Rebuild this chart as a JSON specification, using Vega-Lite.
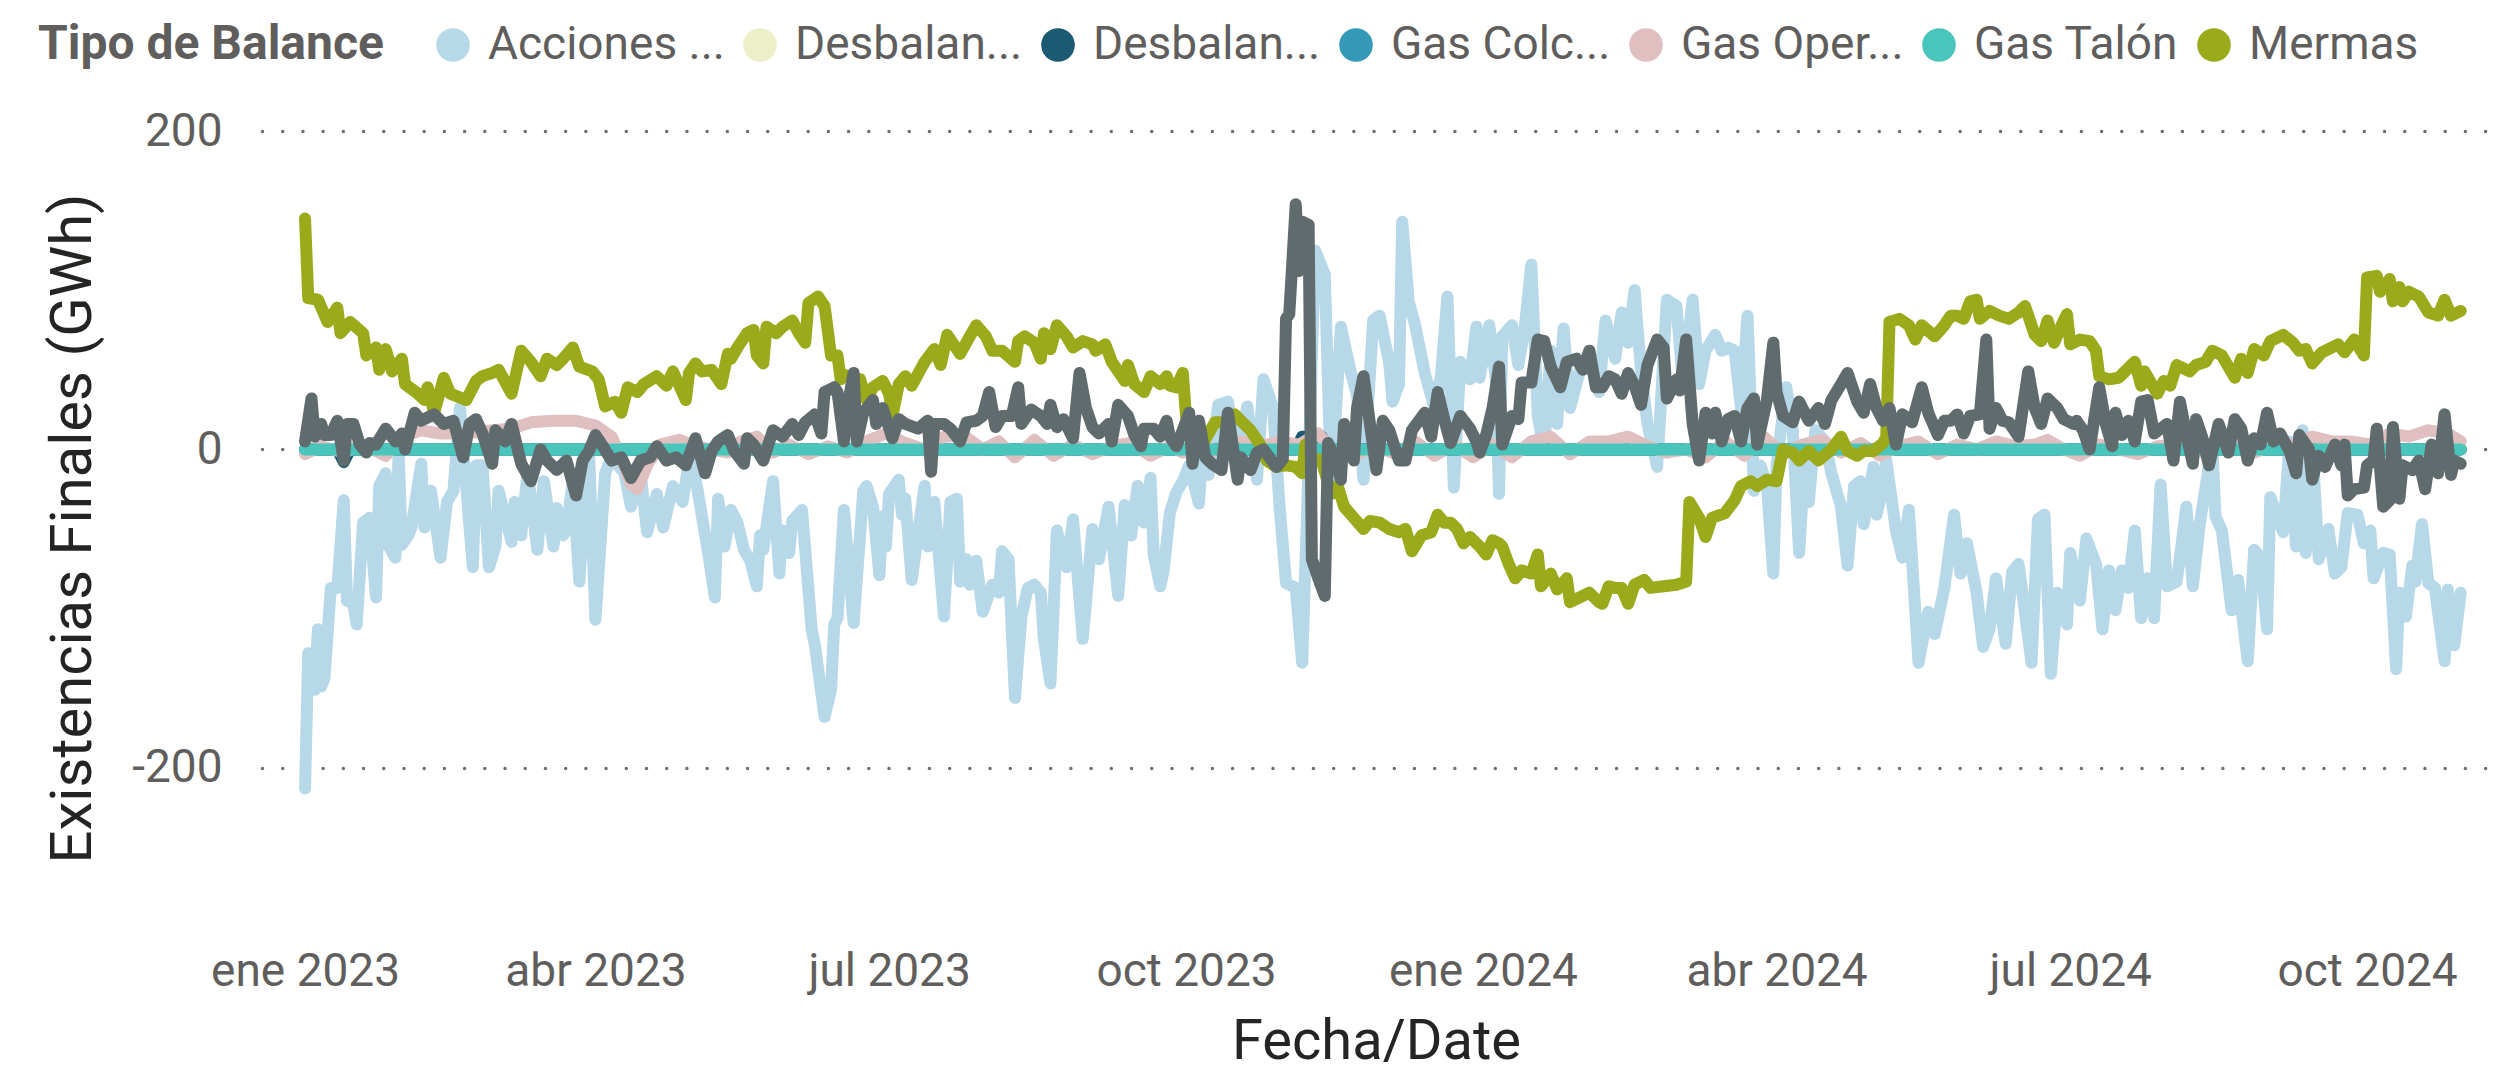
{
  "$schema": "https://vega.github.io/schema/vega-lite/v6.json",
  "autosize": {"type": "none"},
  "width": 2228,
  "height": 796,
  "padding": {"left": 262, "top": 131, "right": 10, "bottom": 139},
  "background": "#ffffff",
  "config": {"font": "Roboto", "view": {"stroke": null}},
  "datasets": {
    "acc": [
      {"d":"2023-01-01","v":-213},{"d":"2023-01-02","v":-128},{"d":"2023-01-04","v":-151},{"d":"2023-01-05","v":-113},{"d":"2023-01-06","v":-149},{"d":"2023-01-07","v":-144},{"d":"2023-01-09","v":-87},{"d":"2023-01-11","v":-87},{"d":"2023-01-13","v":-32},{"d":"2023-01-14","v":-95},{"d":"2023-01-16","v":-97},{"d":"2023-01-17","v":-110},{"d":"2023-01-19","v":-46},{"d":"2023-01-21","v":-43},{"d":"2023-01-23","v":-93},{"d":"2023-01-24","v":-23},{"d":"2023-01-26","v":-15},{"d":"2023-01-27","v":-61},{"d":"2023-01-29","v":-68},{"d":"2023-01-30","v":-2},{"d":"2023-01-31","v":-60},{"d":"2023-02-02","v":-54},{"d":"2023-02-03","v":-49},{"d":"2023-02-06","v":-9},{"d":"2023-02-07","v":-49},{"d":"2023-02-09","v":-26},{"d":"2023-02-12","v":-68},{"d":"2023-02-14","v":-33},{"d":"2023-02-16","v":-26},{"d":"2023-02-18","v":26},{"d":"2023-02-19","v":0},{"d":"2023-02-22","v":-74},{"d":"2023-02-23","v":-10},{"d":"2023-02-25","v":-10},{"d":"2023-02-27","v":-74},{"d":"2023-03-01","v":-61},{"d":"2023-03-02","v":-26},{"d":"2023-03-06","v":-58},{"d":"2023-03-07","v":-33},{"d":"2023-03-09","v":-54},{"d":"2023-03-11","v":-14},{"d":"2023-03-14","v":-63},{"d":"2023-03-16","v":-20},{"d":"2023-03-19","v":-61},{"d":"2023-03-20","v":-37},{"d":"2023-03-22","v":-54},{"d":"2023-03-23","v":-50},{"d":"2023-03-25","v":-20},{"d":"2023-03-27","v":-83},{"d":"2023-03-28","v":-51},{"d":"2023-03-30","v":-2},{"d":"2023-04-01","v":-107},{"d":"2023-04-04","v":-15},{"d":"2023-04-06","v":-5},{"d":"2023-04-10","v":-15},{"d":"2023-04-12","v":-36},{"d":"2023-04-15","v":-15},{"d":"2023-04-17","v":-52},{"d":"2023-04-20","v":-28},{"d":"2023-04-22","v":-49},{"d":"2023-04-25","v":-23},{"d":"2023-04-28","v":-33},{"d":"2023-04-30","v":-7},{"d":"2023-05-02","v":-18},{"d":"2023-05-06","v":-66},{"d":"2023-05-08","v":-93},{"d":"2023-05-09","v":-31},{"d":"2023-05-11","v":-61},{"d":"2023-05-13","v":-38},{"d":"2023-05-15","v":-46},{"d":"2023-05-17","v":-63},{"d":"2023-05-19","v":-70},{"d":"2023-05-21","v":-86},{"d":"2023-05-22","v":-54},{"d":"2023-05-23","v":-63},{"d":"2023-05-26","v":-20},{"d":"2023-05-28","v":-78},{"d":"2023-05-29","v":-51},{"d":"2023-05-31","v":-65},{"d":"2023-06-01","v":-45},{"d":"2023-06-04","v":-38},{"d":"2023-06-07","v":-113},{"d":"2023-06-08","v":-123},{"d":"2023-06-11","v":-168},{"d":"2023-06-13","v":-151},{"d":"2023-06-14","v":-110},{"d":"2023-06-15","v":-106},{"d":"2023-06-17","v":-38},{"d":"2023-06-20","v":-109},{"d":"2023-06-23","v":-26},{"d":"2023-06-24","v":-23},{"d":"2023-06-26","v":-36},{"d":"2023-06-28","v":-79},{"d":"2023-06-29","v":-42},{"d":"2023-06-30","v":-61},{"d":"2023-07-01","v":-28},{"d":"2023-07-04","v":-19},{"d":"2023-07-05","v":-41},{"d":"2023-07-06","v":-31},{"d":"2023-07-08","v":-82},{"d":"2023-07-12","v":-23},{"d":"2023-07-13","v":-61},{"d":"2023-07-15","v":-33},{"d":"2023-07-18","v":-105},{"d":"2023-07-20","v":-33},{"d":"2023-07-22","v":-31},{"d":"2023-07-23","v":-83},{"d":"2023-07-25","v":-69},{"d":"2023-07-26","v":-85},{"d":"2023-07-28","v":-70},{"d":"2023-07-30","v":-102},{"d":"2023-08-02","v":-85},{"d":"2023-08-04","v":-90},{"d":"2023-08-05","v":-64},{"d":"2023-08-07","v":-69},{"d":"2023-08-09","v":-156},{"d":"2023-08-11","v":-105},{"d":"2023-08-13","v":-87},{"d":"2023-08-15","v":-85},{"d":"2023-08-17","v":-90},{"d":"2023-08-18","v":-120},{"d":"2023-08-20","v":-147},{"d":"2023-08-22","v":-51},{"d":"2023-08-25","v":-74},{"d":"2023-08-27","v":-44},{"d":"2023-08-28","v":-69},{"d":"2023-08-30","v":-119},{"d":"2023-09-02","v":-50},{"d":"2023-09-04","v":-69},{"d":"2023-09-07","v":-36},{"d":"2023-09-10","v":-92},{"d":"2023-09-12","v":-35},{"d":"2023-09-14","v":-54},{"d":"2023-09-16","v":-23},{"d":"2023-09-18","v":-46},{"d":"2023-09-20","v":-18},{"d":"2023-09-21","v":-66},{"d":"2023-09-23","v":-86},{"d":"2023-09-24","v":-77},{"d":"2023-09-26","v":-40},{"d":"2023-09-28","v":-27},{"d":"2023-09-30","v":-20},{"d":"2023-10-02","v":-10},{"d":"2023-10-05","v":-34},{"d":"2023-10-06","v":-5},{"d":"2023-10-08","v":-16},{"d":"2023-10-11","v":28},{"d":"2023-10-14","v":30},{"d":"2023-10-16","v":5},{"d":"2023-10-18","v":8},{"d":"2023-10-20","v":27},{"d":"2023-10-23","v":-19},{"d":"2023-10-25","v":44},{"d":"2023-10-28","v":26},{"d":"2023-10-30","v":-36},{"d":"2023-11-01","v":-84},{"d":"2023-11-04","v":-87},{"d":"2023-11-06","v":-134},{"d":"2023-11-08","v":-10},{"d":"2023-11-10","v":125},{"d":"2023-11-13","v":110},{"d":"2023-11-15","v":-26},{"d":"2023-11-18","v":77},{"d":"2023-11-21","v":49},{"d":"2023-11-23","v":34},{"d":"2023-11-25","v":-19},{"d":"2023-11-28","v":81},{"d":"2023-11-30","v":84},{"d":"2023-12-03","v":54},{"d":"2023-12-04","v":30},{"d":"2023-12-06","v":41},{"d":"2023-12-07","v":143},{"d":"2023-12-09","v":93},{"d":"2023-12-11","v":78},{"d":"2023-12-14","v":48},{"d":"2023-12-17","v":26},{"d":"2023-12-19","v":46},{"d":"2023-12-21","v":96},{"d":"2023-12-23","v":-24},{"d":"2023-12-25","v":55},{"d":"2023-12-28","v":44},{"d":"2023-12-30","v":77},{"d":"2023-12-31","v":45},{"d":"2024-01-03","v":78},{"d":"2024-01-05","v":44},{"d":"2024-01-06","v":-28},{"d":"2024-01-07","v":71},{"d":"2024-01-10","v":78},{"d":"2024-01-12","v":53},{"d":"2024-01-14","v":77},{"d":"2024-01-16","v":116},{"d":"2024-01-18","v":21},{"d":"2024-01-20","v":0},{"d":"2024-01-22","v":62},{"d":"2024-01-24","v":16},{"d":"2024-01-26","v":76},{"d":"2024-01-28","v":26},{"d":"2024-01-31","v":49},{"d":"2024-02-03","v":62},{"d":"2024-02-06","v":36},{"d":"2024-02-08","v":81},{"d":"2024-02-11","v":57},{"d":"2024-02-13","v":86},{"d":"2024-02-15","v":67},{"d":"2024-02-17","v":100},{"d":"2024-02-19","v":49},{"d":"2024-02-21","v":16},{"d":"2024-02-24","v":-11},{"d":"2024-02-27","v":94},{"d":"2024-03-01","v":90},{"d":"2024-03-03","v":41},{"d":"2024-03-06","v":94},{"d":"2024-03-08","v":41},{"d":"2024-03-10","v":62},{"d":"2024-03-13","v":72},{"d":"2024-03-15","v":62},{"d":"2024-03-17","v":64},{"d":"2024-03-19","v":62},{"d":"2024-03-21","v":26},{"d":"2024-03-23","v":84},{"d":"2024-03-25","v":-26},{"d":"2024-03-27","v":-10},{"d":"2024-03-29","v":-22},{"d":"2024-03-31","v":-78},{"d":"2024-04-01","v":-10},{"d":"2024-04-04","v":39},{"d":"2024-04-06","v":13},{"d":"2024-04-08","v":-65},{"d":"2024-04-10","v":3},{"d":"2024-04-11","v":-33},{"d":"2024-04-13","v":12},{"d":"2024-04-16","v":5},{"d":"2024-04-18","v":-15},{"d":"2024-04-21","v":-36},{"d":"2024-04-23","v":-73},{"d":"2024-04-25","v":-23},{"d":"2024-04-27","v":-20},{"d":"2024-04-28","v":-47},{"d":"2024-05-01","v":-11},{"d":"2024-05-02","v":-41},{"d":"2024-05-04","v":-23},{"d":"2024-05-05","v":-7},{"d":"2024-05-08","v":-51},{"d":"2024-05-10","v":-68},{"d":"2024-05-12","v":-38},{"d":"2024-05-15","v":-134},{"d":"2024-05-18","v":-102},{"d":"2024-05-20","v":-116},{"d":"2024-05-23","v":-87},{"d":"2024-05-26","v":-41},{"d":"2024-05-28","v":-78},{"d":"2024-05-30","v":-59},{"d":"2024-06-02","v":-90},{"d":"2024-06-04","v":-124},{"d":"2024-06-06","v":-113},{"d":"2024-06-08","v":-81},{"d":"2024-06-11","v":-122},{"d":"2024-06-13","v":-77},{"d":"2024-06-15","v":-72},{"d":"2024-06-19","v":-134},{"d":"2024-06-21","v":-44},{"d":"2024-06-23","v":-41},{"d":"2024-06-25","v":-141},{"d":"2024-06-27","v":-90},{"d":"2024-06-30","v":-110},{"d":"2024-07-01","v":-65},{"d":"2024-07-04","v":-95},{"d":"2024-07-06","v":-56},{"d":"2024-07-09","v":-72},{"d":"2024-07-11","v":-113},{"d":"2024-07-13","v":-76},{"d":"2024-07-15","v":-101},{"d":"2024-07-17","v":-76},{"d":"2024-07-19","v":-87},{"d":"2024-07-21","v":-51},{"d":"2024-07-23","v":-106},{"d":"2024-07-25","v":-81},{"d":"2024-07-27","v":-106},{"d":"2024-07-29","v":-22},{"d":"2024-07-31","v":-86},{"d":"2024-08-03","v":-83},{"d":"2024-08-06","v":-36},{"d":"2024-08-08","v":-86},{"d":"2024-08-10","v":-49},{"d":"2024-08-13","v":-10},{"d":"2024-08-14","v":4},{"d":"2024-08-15","v":-42},{"d":"2024-08-17","v":-51},{"d":"2024-08-20","v":-101},{"d":"2024-08-22","v":-82},{"d":"2024-08-25","v":-133},{"d":"2024-08-27","v":-63},{"d":"2024-08-29","v":-68},{"d":"2024-08-31","v":-113},{"d":"2024-09-01","v":-30},{"d":"2024-09-05","v":-52},{"d":"2024-09-07","v":5},{"d":"2024-09-09","v":-61},{"d":"2024-09-11","v":12},{"d":"2024-09-12","v":-65},{"d":"2024-09-14","v":3},{"d":"2024-09-16","v":-69},{"d":"2024-09-19","v":-50},{"d":"2024-09-21","v":-78},{"d":"2024-09-23","v":-74},{"d":"2024-09-25","v":-40},{"d":"2024-09-28","v":-41},{"d":"2024-09-30","v":-59},{"d":"2024-10-02","v":-51},{"d":"2024-10-03","v":-81},{"d":"2024-10-06","v":-65},{"d":"2024-10-08","v":-66},{"d":"2024-10-10","v":-138},{"d":"2024-10-11","v":-90},{"d":"2024-10-13","v":-105},{"d":"2024-10-15","v":-73},{"d":"2024-10-16","v":-83},{"d":"2024-10-18","v":-47},{"d":"2024-10-20","v":-84},{"d":"2024-10-22","v":-87},{"d":"2024-10-25","v":-133},{"d":"2024-10-26","v":-88},{"d":"2024-10-28","v":-123},{"d":"2024-10-30","v":-90}
    ],
    "mer": [
      {"d":"2023-01-01","v":145},{"d":"2023-01-02","v":95},{"d":"2023-01-05","v":94},{"d":"2023-01-08","v":80},{"d":"2023-01-11","v":89},{"d":"2023-01-12","v":73},{"d":"2023-01-15","v":80},{"d":"2023-01-19","v":73},{"d":"2023-01-20","v":59},{"d":"2023-01-23","v":64},{"d":"2023-01-24","v":50},{"d":"2023-01-26","v":63},{"d":"2023-01-28","v":49},{"d":"2023-01-31","v":57},{"d":"2023-02-01","v":41},{"d":"2023-02-05","v":35},{"d":"2023-02-07","v":31},{"d":"2023-02-08","v":39},{"d":"2023-02-10","v":23},{"d":"2023-02-13","v":45},{"d":"2023-02-15","v":35},{"d":"2023-02-20","v":31},{"d":"2023-02-23","v":43},{"d":"2023-02-25","v":46},{"d":"2023-02-28","v":48},{"d":"2023-03-02","v":50},{"d":"2023-03-06","v":35},{"d":"2023-03-09","v":62},{"d":"2023-03-12","v":55},{"d":"2023-03-15","v":46},{"d":"2023-03-17","v":57},{"d":"2023-03-20","v":53},{"d":"2023-03-22","v":57},{"d":"2023-03-25","v":64},{"d":"2023-03-27","v":52},{"d":"2023-03-31","v":49},{"d":"2023-04-02","v":44},{"d":"2023-04-04","v":27},{"d":"2023-04-07","v":30},{"d":"2023-04-09","v":23},{"d":"2023-04-11","v":39},{"d":"2023-04-14","v":36},{"d":"2023-04-16","v":41},{"d":"2023-04-20","v":46},{"d":"2023-04-23","v":40},{"d":"2023-04-25","v":49},{"d":"2023-04-29","v":31},{"d":"2023-04-30","v":48},{"d":"2023-05-02","v":54},{"d":"2023-05-04","v":49},{"d":"2023-05-07","v":50},{"d":"2023-05-10","v":41},{"d":"2023-05-12","v":60},{"d":"2023-05-13","v":57},{"d":"2023-05-15","v":64},{"d":"2023-05-18","v":73},{"d":"2023-05-20","v":75},{"d":"2023-05-21","v":59},{"d":"2023-05-23","v":54},{"d":"2023-05-24","v":77},{"d":"2023-05-27","v":73},{"d":"2023-05-29","v":77},{"d":"2023-06-01","v":81},{"d":"2023-06-03","v":73},{"d":"2023-06-05","v":67},{"d":"2023-06-06","v":92},{"d":"2023-06-09","v":96},{"d":"2023-06-11","v":90},{"d":"2023-06-13","v":59},{"d":"2023-06-15","v":59},{"d":"2023-06-16","v":44},{"d":"2023-06-17","v":47},{"d":"2023-06-20","v":44},{"d":"2023-06-22","v":44},{"d":"2023-06-24","v":31},{"d":"2023-06-26","v":39},{"d":"2023-06-29","v":43},{"d":"2023-07-01","v":35},{"d":"2023-07-02","v":21},{"d":"2023-07-04","v":41},{"d":"2023-07-06","v":46},{"d":"2023-07-08","v":40},{"d":"2023-07-12","v":55},{"d":"2023-07-15","v":63},{"d":"2023-07-17","v":53},{"d":"2023-07-19","v":72},{"d":"2023-07-23","v":60},{"d":"2023-07-26","v":71},{"d":"2023-07-28","v":78},{"d":"2023-07-31","v":71},{"d":"2023-08-02","v":62},{"d":"2023-08-05","v":62},{"d":"2023-08-09","v":55},{"d":"2023-08-10","v":68},{"d":"2023-08-12","v":71},{"d":"2023-08-15","v":67},{"d":"2023-08-17","v":57},{"d":"2023-08-18","v":73},{"d":"2023-08-20","v":63},{"d":"2023-08-22","v":78},{"d":"2023-08-25","v":71},{"d":"2023-08-27","v":64},{"d":"2023-08-30","v":68},{"d":"2023-09-02","v":66},{"d":"2023-09-03","v":62},{"d":"2023-09-06","v":66},{"d":"2023-09-08","v":55},{"d":"2023-09-12","v":43},{"d":"2023-09-13","v":53},{"d":"2023-09-15","v":41},{"d":"2023-09-18","v":36},{"d":"2023-09-20","v":46},{"d":"2023-09-23","v":41},{"d":"2023-09-25","v":46},{"d":"2023-09-26","v":40},{"d":"2023-09-28","v":39},{"d":"2023-09-30","v":48},{"d":"2023-10-01","v":21},{"d":"2023-10-03","v":0},{"d":"2023-10-06","v":3},{"d":"2023-10-08","v":10},{"d":"2023-10-10","v":17},{"d":"2023-10-14","v":17},{"d":"2023-10-16","v":22},{"d":"2023-10-18","v":18},{"d":"2023-10-21","v":12},{"d":"2023-10-24","v":3},{"d":"2023-10-26","v":-7},{"d":"2023-10-29","v":-11},{"d":"2023-11-01","v":-10},{"d":"2023-11-04","v":-11},{"d":"2023-11-06","v":-15},{"d":"2023-11-07","v":3},{"d":"2023-11-09","v":-5},{"d":"2023-11-12","v":-7},{"d":"2023-11-15","v":-28},{"d":"2023-11-17","v":-23},{"d":"2023-11-19","v":-36},{"d":"2023-11-22","v":-43},{"d":"2023-11-25","v":-50},{"d":"2023-11-27","v":-45},{"d":"2023-11-30","v":-46},{"d":"2023-12-03","v":-50},{"d":"2023-12-06","v":-52},{"d":"2023-12-08","v":-50},{"d":"2023-12-10","v":-64},{"d":"2023-12-13","v":-54},{"d":"2023-12-16","v":-52},{"d":"2023-12-18","v":-41},{"d":"2023-12-20","v":-46},{"d":"2023-12-22","v":-46},{"d":"2023-12-24","v":-50},{"d":"2023-12-26","v":-59},{"d":"2023-12-28","v":-55},{"d":"2023-12-31","v":-61},{"d":"2024-01-02","v":-66},{"d":"2024-01-04","v":-57},{"d":"2024-01-06","v":-59},{"d":"2024-01-07","v":-61},{"d":"2024-01-09","v":-72},{"d":"2024-01-11","v":-81},{"d":"2024-01-13","v":-76},{"d":"2024-01-16","v":-78},{"d":"2024-01-18","v":-66},{"d":"2024-01-19","v":-86},{"d":"2024-01-22","v":-78},{"d":"2024-01-24","v":-88},{"d":"2024-01-27","v":-81},{"d":"2024-01-28","v":-96},{"d":"2024-01-31","v":-93},{"d":"2024-02-03","v":-90},{"d":"2024-02-06","v":-96},{"d":"2024-02-07","v":-97},{"d":"2024-02-09","v":-86},{"d":"2024-02-11","v":-87},{"d":"2024-02-13","v":-87},{"d":"2024-02-15","v":-97},{"d":"2024-02-17","v":-85},{"d":"2024-02-20","v":-82},{"d":"2024-02-22","v":-87},{"d":"2024-02-26","v":-86},{"d":"2024-03-01","v":-85},{"d":"2024-03-04","v":-83},{"d":"2024-03-05","v":-33},{"d":"2024-03-08","v":-43},{"d":"2024-03-10","v":-55},{"d":"2024-03-12","v":-43},{"d":"2024-03-16","v":-40},{"d":"2024-03-19","v":-32},{"d":"2024-03-21","v":-23},{"d":"2024-03-24","v":-20},{"d":"2024-03-26","v":-23},{"d":"2024-03-29","v":-19},{"d":"2024-04-01","v":-20},{"d":"2024-04-03","v":0},{"d":"2024-04-06","v":-2},{"d":"2024-04-08","v":-7},{"d":"2024-04-11","v":-1},{"d":"2024-04-14","v":-7},{"d":"2024-04-18","v":0},{"d":"2024-04-21","v":8},{"d":"2024-04-23","v":-1},{"d":"2024-04-26","v":-4},{"d":"2024-04-28","v":-1},{"d":"2024-05-01","v":-1},{"d":"2024-05-04","v":4},{"d":"2024-05-05","v":8},{"d":"2024-05-06","v":80},{"d":"2024-05-09","v":82},{"d":"2024-05-12","v":78},{"d":"2024-05-14","v":69},{"d":"2024-05-16","v":78},{"d":"2024-05-20","v":71},{"d":"2024-05-23","v":78},{"d":"2024-05-25","v":84},{"d":"2024-05-27","v":84},{"d":"2024-05-29","v":82},{"d":"2024-05-31","v":93},{"d":"2024-06-02","v":94},{"d":"2024-06-03","v":82},{"d":"2024-06-06","v":87},{"d":"2024-06-09","v":84},{"d":"2024-06-12","v":82},{"d":"2024-06-15","v":86},{"d":"2024-06-17","v":90},{"d":"2024-06-20","v":72},{"d":"2024-06-22","v":68},{"d":"2024-06-24","v":81},{"d":"2024-06-25","v":73},{"d":"2024-06-26","v":67},{"d":"2024-06-29","v":81},{"d":"2024-06-30","v":85},{"d":"2024-07-01","v":66},{"d":"2024-07-04","v":69},{"d":"2024-07-07","v":68},{"d":"2024-07-09","v":62},{"d":"2024-07-10","v":46},{"d":"2024-07-13","v":44},{"d":"2024-07-16","v":45},{"d":"2024-07-18","v":49},{"d":"2024-07-21","v":55},{"d":"2024-07-23","v":40},{"d":"2024-07-24","v":49},{"d":"2024-07-28","v":35},{"d":"2024-07-30","v":43},{"d":"2024-08-01","v":40},{"d":"2024-08-03","v":53},{"d":"2024-08-07","v":49},{"d":"2024-08-09","v":53},{"d":"2024-08-12","v":55},{"d":"2024-08-14","v":62},{"d":"2024-08-17","v":59},{"d":"2024-08-21","v":45},{"d":"2024-08-23","v":57},{"d":"2024-08-25","v":48},{"d":"2024-08-27","v":63},{"d":"2024-08-30","v":59},{"d":"2024-09-01","v":68},{"d":"2024-09-05","v":72},{"d":"2024-09-08","v":67},{"d":"2024-09-10","v":62},{"d":"2024-09-12","v":63},{"d":"2024-09-14","v":54},{"d":"2024-09-17","v":61},{"d":"2024-09-20","v":64},{"d":"2024-09-22","v":66},{"d":"2024-09-24","v":61},{"d":"2024-09-27","v":69},{"d":"2024-09-30","v":59},{"d":"2024-10-01","v":108},{"d":"2024-10-04","v":109},{"d":"2024-10-05","v":99},{"d":"2024-10-08","v":107},{"d":"2024-10-09","v":93},{"d":"2024-10-11","v":102},{"d":"2024-10-12","v":93},{"d":"2024-10-14","v":99},{"d":"2024-10-17","v":96},{"d":"2024-10-20","v":86},{"d":"2024-10-23","v":84},{"d":"2024-10-25","v":94},{"d":"2024-10-27","v":84},{"d":"2024-10-30","v":87}
    ],
    "gri": [
      {"d":"2023-01-01","v":5},{"d":"2023-01-03","v":32},{"d":"2023-01-04","v":8},{"d":"2023-01-06","v":16},{"d":"2023-01-07","v":9},{"d":"2023-01-09","v":9},{"d":"2023-01-11","v":18},{"d":"2023-01-13","v":-7},{"d":"2023-01-14","v":16},{"d":"2023-01-16","v":16},{"d":"2023-01-18","v":3},{"d":"2023-01-20","v":-2},{"d":"2023-01-21","v":4},{"d":"2023-01-23","v":3},{"d":"2023-01-26","v":13},{"d":"2023-01-29","v":5},{"d":"2023-01-31","v":10},{"d":"2023-02-01","v":0},{"d":"2023-02-04","v":23},{"d":"2023-02-06","v":18},{"d":"2023-02-10","v":22},{"d":"2023-02-13","v":16},{"d":"2023-02-16","v":18},{"d":"2023-02-19","v":-5},{"d":"2023-02-21","v":16},{"d":"2023-02-23","v":19},{"d":"2023-02-25","v":10},{"d":"2023-02-28","v":-9},{"d":"2023-03-01","v":12},{"d":"2023-03-04","v":5},{"d":"2023-03-06","v":16},{"d":"2023-03-09","v":-9},{"d":"2023-03-12","v":-20},{"d":"2023-03-15","v":0},{"d":"2023-03-17","v":-7},{"d":"2023-03-20","v":-13},{"d":"2023-03-23","v":-7},{"d":"2023-03-26","v":-29},{"d":"2023-03-28","v":-7},{"d":"2023-03-30","v":-1},{"d":"2023-04-01","v":9},{"d":"2023-04-03","v":3},{"d":"2023-04-06","v":-7},{"d":"2023-04-09","v":-5},{"d":"2023-04-12","v":-18},{"d":"2023-04-15","v":-7},{"d":"2023-04-18","v":-5},{"d":"2023-04-20","v":2},{"d":"2023-04-23","v":-7},{"d":"2023-04-26","v":-5},{"d":"2023-04-29","v":-10},{"d":"2023-05-02","v":7},{"d":"2023-05-05","v":-15},{"d":"2023-05-07","v":-1},{"d":"2023-05-09","v":5},{"d":"2023-05-12","v":9},{"d":"2023-05-14","v":-1},{"d":"2023-05-17","v":-9},{"d":"2023-05-18","v":7},{"d":"2023-05-20","v":3},{"d":"2023-05-23","v":-7},{"d":"2023-05-26","v":12},{"d":"2023-05-29","v":8},{"d":"2023-06-01","v":16},{"d":"2023-06-03","v":9},{"d":"2023-06-05","v":17},{"d":"2023-06-08","v":22},{"d":"2023-06-10","v":10},{"d":"2023-06-11","v":36},{"d":"2023-06-14","v":39},{"d":"2023-06-15","v":36},{"d":"2023-06-17","v":5},{"d":"2023-06-18","v":26},{"d":"2023-06-20","v":48},{"d":"2023-06-21","v":5},{"d":"2023-06-23","v":23},{"d":"2023-06-26","v":31},{"d":"2023-06-27","v":16},{"d":"2023-06-29","v":26},{"d":"2023-07-02","v":7},{"d":"2023-07-04","v":19},{"d":"2023-07-06","v":16},{"d":"2023-07-10","v":13},{"d":"2023-07-13","v":18},{"d":"2023-07-14","v":-14},{"d":"2023-07-15","v":16},{"d":"2023-07-18","v":16},{"d":"2023-07-20","v":13},{"d":"2023-07-23","v":5},{"d":"2023-07-25","v":17},{"d":"2023-07-28","v":18},{"d":"2023-07-30","v":21},{"d":"2023-08-01","v":36},{"d":"2023-08-03","v":14},{"d":"2023-08-05","v":21},{"d":"2023-08-08","v":21},{"d":"2023-08-10","v":39},{"d":"2023-08-11","v":16},{"d":"2023-08-14","v":25},{"d":"2023-08-17","v":21},{"d":"2023-08-19","v":16},{"d":"2023-08-20","v":28},{"d":"2023-08-22","v":14},{"d":"2023-08-24","v":19},{"d":"2023-08-27","v":7},{"d":"2023-08-29","v":48},{"d":"2023-08-31","v":26},{"d":"2023-09-02","v":14},{"d":"2023-09-04","v":10},{"d":"2023-09-07","v":16},{"d":"2023-09-08","v":5},{"d":"2023-09-10","v":28},{"d":"2023-09-13","v":21},{"d":"2023-09-15","v":9},{"d":"2023-09-17","v":2},{"d":"2023-09-18","v":13},{"d":"2023-09-21","v":13},{"d":"2023-09-23","v":8},{"d":"2023-09-25","v":18},{"d":"2023-09-26","v":8},{"d":"2023-09-28","v":2},{"d":"2023-09-30","v":12},{"d":"2023-10-02","v":23},{"d":"2023-10-03","v":-9},{"d":"2023-10-05","v":18},{"d":"2023-10-07","v":-5},{"d":"2023-10-09","v":-9},{"d":"2023-10-12","v":-13},{"d":"2023-10-14","v":23},{"d":"2023-10-17","v":-19},{"d":"2023-10-18","v":-5},{"d":"2023-10-21","v":-13},{"d":"2023-10-23","v":-2},{"d":"2023-10-25","v":0},{"d":"2023-10-29","v":-11},{"d":"2023-10-31","v":-6},{"d":"2023-11-01","v":82},{"d":"2023-11-02","v":85},{"d":"2023-11-04","v":154},{"d":"2023-11-05","v":112},{"d":"2023-11-06","v":143},{"d":"2023-11-08","v":141},{"d":"2023-11-09","v":-69},{"d":"2023-11-11","v":-81},{"d":"2023-11-13","v":-92},{"d":"2023-11-14","v":4},{"d":"2023-11-16","v":-5},{"d":"2023-11-18","v":-19},{"d":"2023-11-19","v":16},{"d":"2023-11-22","v":-7},{"d":"2023-11-23","v":26},{"d":"2023-11-25","v":46},{"d":"2023-11-27","v":16},{"d":"2023-11-29","v":-13},{"d":"2023-12-01","v":18},{"d":"2023-12-03","v":12},{"d":"2023-12-06","v":-7},{"d":"2023-12-08","v":-7},{"d":"2023-12-10","v":12},{"d":"2023-12-14","v":23},{"d":"2023-12-16","v":8},{"d":"2023-12-18","v":36},{"d":"2023-12-20","v":19},{"d":"2023-12-22","v":4},{"d":"2023-12-25","v":21},{"d":"2023-12-28","v":13},{"d":"2023-12-30","v":5},{"d":"2023-12-31","v":-2},{"d":"2024-01-02","v":9},{"d":"2024-01-04","v":26},{"d":"2024-01-06","v":52},{"d":"2024-01-07","v":3},{"d":"2024-01-10","v":21},{"d":"2024-01-12","v":19},{"d":"2024-01-13","v":42},{"d":"2024-01-16","v":42},{"d":"2024-01-18","v":69},{"d":"2024-01-20","v":68},{"d":"2024-01-22","v":52},{"d":"2024-01-25","v":39},{"d":"2024-01-27","v":55},{"d":"2024-01-30","v":57},{"d":"2024-02-01","v":50},{"d":"2024-02-03","v":62},{"d":"2024-02-05","v":39},{"d":"2024-02-07","v":39},{"d":"2024-02-09","v":46},{"d":"2024-02-11","v":44},{"d":"2024-02-13","v":35},{"d":"2024-02-15","v":48},{"d":"2024-02-17","v":40},{"d":"2024-02-19","v":28},{"d":"2024-02-21","v":53},{"d":"2024-02-24","v":69},{"d":"2024-02-26","v":64},{"d":"2024-02-27","v":32},{"d":"2024-03-01","v":44},{"d":"2024-03-02","v":37},{"d":"2024-03-04","v":69},{"d":"2024-03-06","v":16},{"d":"2024-03-08","v":-7},{"d":"2024-03-10","v":23},{"d":"2024-03-12","v":10},{"d":"2024-03-13","v":23},{"d":"2024-03-15","v":5},{"d":"2024-03-17","v":19},{"d":"2024-03-19","v":21},{"d":"2024-03-21","v":5},{"d":"2024-03-23","v":26},{"d":"2024-03-25","v":32},{"d":"2024-03-26","v":3},{"d":"2024-03-29","v":31},{"d":"2024-03-31","v":67},{"d":"2024-04-01","v":36},{"d":"2024-04-03","v":21},{"d":"2024-04-06","v":17},{"d":"2024-04-08","v":30},{"d":"2024-04-11","v":18},{"d":"2024-04-14","v":26},{"d":"2024-04-16","v":16},{"d":"2024-04-18","v":31},{"d":"2024-04-21","v":41},{"d":"2024-04-23","v":48},{"d":"2024-04-26","v":30},{"d":"2024-04-28","v":23},{"d":"2024-04-30","v":41},{"d":"2024-05-02","v":26},{"d":"2024-05-04","v":18},{"d":"2024-05-06","v":26},{"d":"2024-05-08","v":3},{"d":"2024-05-10","v":22},{"d":"2024-05-13","v":17},{"d":"2024-05-16","v":39},{"d":"2024-05-18","v":23},{"d":"2024-05-21","v":9},{"d":"2024-05-23","v":18},{"d":"2024-05-25","v":18},{"d":"2024-05-27","v":22},{"d":"2024-05-29","v":10},{"d":"2024-05-31","v":21},{"d":"2024-06-03","v":22},{"d":"2024-06-05","v":69},{"d":"2024-06-06","v":13},{"d":"2024-06-08","v":26},{"d":"2024-06-10","v":18},{"d":"2024-06-12","v":17},{"d":"2024-06-15","v":8},{"d":"2024-06-18","v":49},{"d":"2024-06-20","v":26},{"d":"2024-06-22","v":16},{"d":"2024-06-24","v":32},{"d":"2024-06-27","v":26},{"d":"2024-06-29","v":19},{"d":"2024-07-02","v":16},{"d":"2024-07-03","v":18},{"d":"2024-07-05","v":12},{"d":"2024-07-07","v":0},{"d":"2024-07-08","v":13},{"d":"2024-07-10","v":39},{"d":"2024-07-12","v":16},{"d":"2024-07-14","v":2},{"d":"2024-07-15","v":23},{"d":"2024-07-17","v":9},{"d":"2024-07-19","v":18},{"d":"2024-07-21","v":5},{"d":"2024-07-23","v":30},{"d":"2024-07-25","v":31},{"d":"2024-07-27","v":10},{"d":"2024-07-29","v":13},{"d":"2024-07-31","v":16},{"d":"2024-08-02","v":-7},{"d":"2024-08-04","v":30},{"d":"2024-08-06","v":9},{"d":"2024-08-08","v":-9},{"d":"2024-08-09","v":19},{"d":"2024-08-11","v":7},{"d":"2024-08-13","v":-10},{"d":"2024-08-16","v":16},{"d":"2024-08-19","v":-2},{"d":"2024-08-21","v":19},{"d":"2024-08-23","v":13},{"d":"2024-08-25","v":-7},{"d":"2024-08-27","v":7},{"d":"2024-08-29","v":3},{"d":"2024-08-31","v":23},{"d":"2024-09-02","v":5},{"d":"2024-09-04","v":10},{"d":"2024-09-07","v":-1},{"d":"2024-09-09","v":-15},{"d":"2024-09-10","v":9},{"d":"2024-09-13","v":0},{"d":"2024-09-14","v":-19},{"d":"2024-09-16","v":-4},{"d":"2024-09-18","v":-11},{"d":"2024-09-21","v":3},{"d":"2024-09-23","v":-10},{"d":"2024-09-24","v":3},{"d":"2024-09-25","v":-29},{"d":"2024-09-27","v":-25},{"d":"2024-09-30","v":-24},{"d":"2024-10-01","v":-10},{"d":"2024-10-03","v":-7},{"d":"2024-10-04","v":13},{"d":"2024-10-06","v":-36},{"d":"2024-10-08","v":-32},{"d":"2024-10-09","v":14},{"d":"2024-10-11","v":-31},{"d":"2024-10-12","v":-10},{"d":"2024-10-15","v":-13},{"d":"2024-10-17","v":-7},{"d":"2024-10-19","v":-25},{"d":"2024-10-21","v":3},{"d":"2024-10-23","v":-15},{"d":"2024-10-25","v":22},{"d":"2024-10-27","v":-16},{"d":"2024-10-28","v":-7},{"d":"2024-10-30","v":-9}
    ],
    "ope": [
      {"d":"2023-01-01","v":-3},{"d":"2023-01-06","v":2},{"d":"2023-01-13","v":-2},{"d":"2023-01-19","v":3},{"d":"2023-01-26","v":-4},{"d":"2023-01-31","v":8},{"d":"2023-02-06","v":12},{"d":"2023-02-12","v":10},{"d":"2023-02-20","v":10},{"d":"2023-02-28","v":12},{"d":"2023-03-06","v":13},{"d":"2023-03-12","v":17},{"d":"2023-03-19","v":18},{"d":"2023-03-26","v":18},{"d":"2023-04-01","v":15},{"d":"2023-04-06","v":8},{"d":"2023-04-09","v":-5},{"d":"2023-04-12","v":-22},{"d":"2023-04-14","v":-25},{"d":"2023-04-17","v":-10},{"d":"2023-04-21","v":3},{"d":"2023-04-27","v":6},{"d":"2023-05-02","v":2},{"d":"2023-05-07","v":0},{"d":"2023-05-12","v":-2},{"d":"2023-05-16","v":5},{"d":"2023-05-21","v":8},{"d":"2023-05-26","v":-2},{"d":"2023-05-31","v":3},{"d":"2023-06-06","v":-3},{"d":"2023-06-12","v":2},{"d":"2023-06-18","v":-2},{"d":"2023-06-25","v":6},{"d":"2023-06-30","v":10},{"d":"2023-07-06","v":4},{"d":"2023-07-12","v":0},{"d":"2023-07-18","v":8},{"d":"2023-07-24","v":9},{"d":"2023-07-30","v":0},{"d":"2023-08-04","v":5},{"d":"2023-08-09","v":-5},{"d":"2023-08-15","v":6},{"d":"2023-08-21","v":-4},{"d":"2023-08-27","v":3},{"d":"2023-09-02","v":-3},{"d":"2023-09-08","v":2},{"d":"2023-09-14","v":4},{"d":"2023-09-20","v":-4},{"d":"2023-09-26","v":2},{"d":"2023-09-30","v":-2},{"d":"2023-10-06","v":3},{"d":"2023-10-12","v":-3},{"d":"2023-10-18","v":5},{"d":"2023-10-24","v":2},{"d":"2023-10-30","v":5},{"d":"2023-11-05","v":3},{"d":"2023-11-11","v":10},{"d":"2023-11-17","v":-5},{"d":"2023-11-23","v":-3},{"d":"2023-11-29","v":2},{"d":"2023-12-05","v":-3},{"d":"2023-12-11","v":5},{"d":"2023-12-17","v":-4},{"d":"2023-12-23","v":3},{"d":"2023-12-29","v":-5},{"d":"2024-01-04","v":3},{"d":"2024-01-10","v":-5},{"d":"2024-01-16","v":5},{"d":"2024-01-22","v":8},{"d":"2024-01-28","v":-3},{"d":"2024-02-03","v":5},{"d":"2024-02-09","v":5},{"d":"2024-02-15","v":8},{"d":"2024-02-21","v":2},{"d":"2024-02-27","v":-2},{"d":"2024-03-04","v":0},{"d":"2024-03-10","v":-5},{"d":"2024-03-16","v":5},{"d":"2024-03-22","v":-4},{"d":"2024-03-28","v":8},{"d":"2024-04-03","v":-3},{"d":"2024-04-09","v":3},{"d":"2024-04-15","v":6},{"d":"2024-04-21","v":-2},{"d":"2024-04-27","v":4},{"d":"2024-05-03","v":-4},{"d":"2024-05-09","v":2},{"d":"2024-05-15","v":5},{"d":"2024-05-21","v":-3},{"d":"2024-05-27","v":3},{"d":"2024-06-02","v":0},{"d":"2024-06-08","v":5},{"d":"2024-06-14","v":2},{"d":"2024-06-20","v":3},{"d":"2024-06-24","v":6},{"d":"2024-06-29","v":0},{"d":"2024-07-04","v":-4},{"d":"2024-07-10","v":3},{"d":"2024-07-16","v":0},{"d":"2024-07-22","v":-3},{"d":"2024-07-28","v":2},{"d":"2024-08-03","v":3},{"d":"2024-08-09","v":-2},{"d":"2024-08-15","v":4},{"d":"2024-08-21","v":2},{"d":"2024-08-27","v":-2},{"d":"2024-09-02","v":3},{"d":"2024-09-08","v":3},{"d":"2024-09-14","v":8},{"d":"2024-09-20","v":5},{"d":"2024-09-26","v":5},{"d":"2024-10-02","v":3},{"d":"2024-10-08","v":10},{"d":"2024-10-14","v":8},{"d":"2024-10-20","v":12},{"d":"2024-10-26","v":10},{"d":"2024-10-30","v":5}
    ],
    "tal": [
      {"d":"2023-01-01","v":0},{"d":"2023-03-01","v":0},{"d":"2023-05-01","v":0},{"d":"2023-07-01","v":0},{"d":"2023-09-01","v":0},{"d":"2023-11-01","v":0},{"d":"2024-01-01","v":0},{"d":"2024-03-01","v":0},{"d":"2024-05-01","v":0},{"d":"2024-07-01","v":0},{"d":"2024-09-01","v":0},{"d":"2024-10-30","v":0}
    ],
    "col": [
      {"d":"2023-01-01","v":0},{"d":"2023-05-01","v":0},{"d":"2023-09-01","v":0},{"d":"2024-01-01","v":0},{"d":"2024-05-01","v":0},{"d":"2024-09-01","v":0},{"d":"2024-10-30","v":0}
    ],
    "db1": [
      {"d":"2023-01-01","v":0},{"d":"2023-05-01","v":0},{"d":"2023-09-01","v":0},{"d":"2024-01-01","v":0},{"d":"2024-05-01","v":0},{"d":"2024-09-01","v":0},{"d":"2024-10-30","v":0}
    ],
    "db2": [
      {"d":"2023-01-01","v":0},{"d":"2023-01-11","v":0},{"d":"2023-01-13","v":-8},{"d":"2023-01-15","v":0},{"d":"2023-06-01","v":0},{"d":"2023-11-04","v":0},{"d":"2023-11-06","v":8},{"d":"2023-11-12","v":8},{"d":"2023-11-14","v":0},{"d":"2024-04-01","v":0},{"d":"2024-10-30","v":0}
    ]
  },
  "encoding": {
    "x": {
      "field": "d", "type": "temporal",
      "scale": {"type": "utc", "domain": [{"year": 2022, "month": 12, "date": 18, "hours": 16, "utc": true}, {"year": 2024, "month": 11, "date": 8, "hours": 2, "utc": true}]},
      "axis": {
        "values": [
          {"year": 2023, "month": 1, "date": 1, "utc": true}, {"year": 2023, "month": 4, "date": 1, "utc": true},
          {"year": 2023, "month": 7, "date": 1, "utc": true}, {"year": 2023, "month": 10, "date": 1, "utc": true},
          {"year": 2024, "month": 1, "date": 1, "utc": true}, {"year": 2024, "month": 4, "date": 1, "utc": true},
          {"year": 2024, "month": 7, "date": 1, "utc": true}, {"year": 2024, "month": 10, "date": 1, "utc": true}
        ],
        "labelExpr": "['ene','feb','mar','abr','may','jun','jul','ago','sep','oct','nov','dic'][utcmonth(datum.value)] + ' ' + utcyear(datum.value)",
        "labelFontSize": 46, "labelColor": "#605E5C", "labelPadding": 22, "labelFlush": false, "labelOverlap": false, "labelLimit": 0,
        "domain": false, "ticks": false, "tickSize": 0, "grid": false,
        "title": "Fecha/Date", "titleFontSize": 56, "titleColor": "#252423", "titleFontWeight": "normal",
        "titleY": 114, "titleBaseline": "middle"
      }
    },
    "y": {
      "field": "v", "type": "quantitative",
      "scale": {"domain": [-300, 200], "nice": false, "zero": false},
      "axis": {
        "values": [-200, 0, 200],
        "labelExpr": "datum.value < 0 ? '-' + abs(datum.value) : '' + datum.value",
        "labelFontSize": 46, "labelColor": "#605E5C", "labelPadding": 40,
        "domain": false, "ticks": false, "tickSize": 0,
        "grid": true, "gridColor": "#6E6E6E", "gridWidth": 3.5, "gridDash": [0.01, 20.2], "gridCap": "round",
        "title": "Existencias Finales (GWh)", "titleFontSize": 58, "titleColor": "#252423", "titleFontWeight": "normal",
        "titleX": -189, "titleY": 397, "titleBaseline": "middle", "titleAlign": "center", "titleAngle": 270
      }
    }
  },
  "layer": [
    {"data": {"name": "acc"}, "mark": {"type": "line", "strokeWidth": 12, "strokeJoin": "round", "strokeCap": "round"},
     "encoding": {"color": {"datum": "Acciones Operativas", "type": "nominal",
       "scale": {"domain": ["Acciones Operativas", "Desbalance Comercial", "Desbalance Operativo", "Gas Colchón", "Gas Operativo", "Gas Talón", "Mermas"], "range": ["#B7D8E8", "#EDEFC9", "#1C5A73", "#3599B8", "#DFBFBF", "#4AC5BB", "#9AAA1A"]},
       "legend": {
         "orient": "none", "direction": "horizontal", "legendX": -224, "legendY": -109, "padding": 0,
         "title": "Tipo de Balance", "titleOrient": "left", "titleFontSize": 48, "titleFontWeight": "bold", "titleColor": "#605E5C", "titlePadding": 46, "titleBaseline": "middle", "titleLimit": 0,
         "labelFontSize": 46, "labelColor": "#605E5C", "labelLimit": 0, "labelOffset": 12, "columnPadding": 12,
         "symbolType": "circle", "symbolSize": 1130, "symbolStrokeWidth": 0,
         "labelExpr": "datum.label == 'Acciones Operativas' ? 'Acciones ...' : (indexof(datum.label, 'Desbalance') == 0 ? 'Desbalan...' : (datum.label == 'Gas Colchón' ? 'Gas Colc...' : (datum.label == 'Gas Operativo' ? 'Gas Oper...' : datum.label)))",
         "encode": {"symbols": {"update": {"fill": {"scale": "color", "field": "value"}, "stroke": {"value": "transparent"}, "opacity": {"value": 1}}}}
       }}}},
    {"data": {"name": "db1"}, "mark": {"type": "line", "strokeWidth": 12, "strokeJoin": "round", "strokeCap": "round"},
     "encoding": {"color": {"datum": "Desbalance Comercial", "type": "nominal"}}},
    {"data": {"name": "db2"}, "mark": {"type": "line", "strokeWidth": 12, "strokeJoin": "round", "strokeCap": "round"},
     "encoding": {"color": {"datum": "Desbalance Operativo", "type": "nominal"}}},
    {"data": {"name": "col"}, "mark": {"type": "line", "strokeWidth": 12, "strokeJoin": "round", "strokeCap": "round"},
     "encoding": {"color": {"datum": "Gas Colchón", "type": "nominal"}}},
    {"data": {"name": "ope"}, "mark": {"type": "line", "strokeWidth": 12, "strokeJoin": "round", "strokeCap": "round"},
     "encoding": {"color": {"datum": "Gas Operativo", "type": "nominal"}}},
    {"data": {"name": "tal"}, "mark": {"type": "line", "strokeWidth": 12, "strokeJoin": "round", "strokeCap": "round"},
     "encoding": {"color": {"datum": "Gas Talón", "type": "nominal"}}},
    {"data": {"name": "mer"}, "mark": {"type": "line", "strokeWidth": 12, "strokeJoin": "round", "strokeCap": "round"},
     "encoding": {"color": {"datum": "Mermas", "type": "nominal"}}},
    {"data": {"name": "gri"}, "mark": {"type": "line", "strokeWidth": 12, "strokeJoin": "round", "strokeCap": "round", "color": "#5F6B6D"},
     "encoding": {}}
  ]
}
